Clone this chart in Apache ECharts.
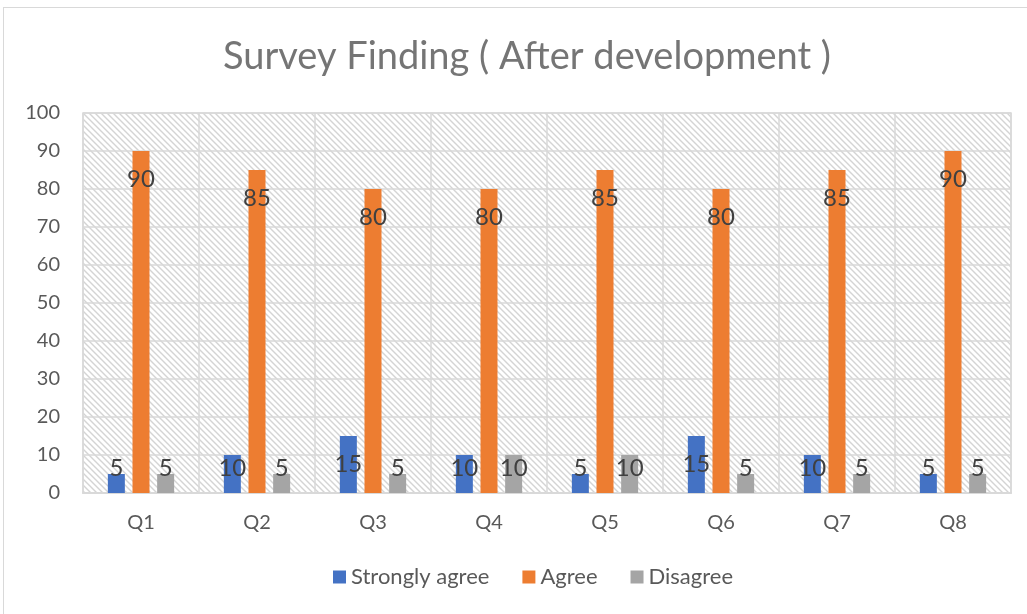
<!DOCTYPE html>
<html>
<head>
<meta charset="utf-8">
<script src="https://cdn.jsdelivr.net/npm/echarts@6/dist/echarts.min.js"></script>
<style>
  html, body { margin: 0; padding: 0; background: #fff; }
  #chart { width: 1027px; height: 614px; }
  #frame { position: absolute; left: 3px; top: 7px; width: 1040px; height: 630px; border: 1px solid #d9d9d9; pointer-events: none; }
</style>
</head>
<body>
<div id="chart"></div>
<div id="frame"></div>
<script>
var categories = ["Q1", "Q2", "Q3", "Q4", "Q5", "Q6", "Q7", "Q8"];
var stronglyAgree = [5, 10, 15, 10, 5, 15, 10, 5];
var agree = [90, 85, 80, 80, 85, 80, 85, 90];
var disagree = [5, 5, 5, 10, 10, 5, 5, 5];
var yTicks = [0, 100, 10];

// hatch pattern for plot background
var pat = document.createElement("canvas");
pat.width = 6;
pat.height = 6;
var ctx = pat.getContext("2d");
ctx.fillStyle = "#ffffff";
ctx.fillRect(0, 0, 6, 6);
ctx.strokeStyle = "#d4d4d4";
ctx.lineWidth = 1.4;
ctx.beginPath();
ctx.moveTo(-1, -1); ctx.lineTo(7, 7);
ctx.moveTo(-1, 5); ctx.lineTo(1, 7);
ctx.moveTo(5, -1); ctx.lineTo(7, 1);
ctx.stroke();

// Excel style "inside end" labels: short bars get label pushed to the base
function withLabels(arr) {
  return arr.map(function (v) {
    var small = v <= 10;
    return {
      value: v,
      label: {
        position: small ? "insideBottom" : "insideTop",
        distance: small ? 13 : 16
      }
    };
  });
}

var labelStyle = {
  show: true,
  color: "#404040",
  fontSize: 24,
  lineHeight: 24,
  fontFamily: "Lato"
};

var chart = echarts.init(document.getElementById("chart"));
var option = {
  animation: false,
  title: {
    text: "Survey Finding ( After development )",
    left: 218,
    top: 33,
    textStyle: {
      color: "#757575",
      fontSize: 38,
      fontWeight: "normal",
      fontFamily: "Lato"
    }
  },
  legend: {
    bottom: 21,
    left: 328,
    itemWidth: 13,
    itemHeight: 13,
    itemGap: 33,
    icon: "rect",
    textStyle: { color: "#595959", fontSize: 22, fontFamily: "Lato" },
    data: ["Strongly agree", "Agree", "Disagree"]
  },
  grid: {
    left: 83,
    right: 16,
    top: 113,
    bottom: 121,
    show: true,
    borderColor: "#d9d9d9",
    borderWidth: 1.5,
    backgroundColor: { image: pat, repeat: "repeat" }
  },
  xAxis: {
    type: "category",
    data: categories,
    axisLine: { lineStyle: { color: "#d9d9d9", width: 2 } },
    axisTick: { show: false },
    splitLine: { show: true, lineStyle: { color: "#d9d9d9", width: 1.5 } },
    axisLabel: { color: "#595959", fontSize: 20, margin: 20, fontFamily: "Lato" }
  },
  yAxis: {
    type: "value",
    min: yTicks[0],
    max: yTicks[1],
    interval: yTicks[2],
    axisLine: { show: false },
    axisTick: { show: false },
    splitLine: { lineStyle: { color: "#d9d9d9", width: 1.5 } },
    axisLabel: { color: "#595959", fontSize: 20, margin: 23, fontFamily: "Lato" }
  },
  series: [
    {
      name: "Strongly agree",
      type: "bar",
      barWidth: 17,
      barGap: "45%",
      itemStyle: { color: "#4472c4" },
      label: labelStyle,
      data: withLabels(stronglyAgree)
    },
    {
      name: "Agree",
      type: "bar",
      barWidth: 17,
      barGap: "45%",
      itemStyle: { color: "#ed7d31" },
      label: labelStyle,
      data: withLabels(agree)
    },
    {
      name: "Disagree",
      type: "bar",
      barWidth: 17,
      barGap: "45%",
      itemStyle: { color: "#a5a5a5" },
      label: labelStyle,
      data: withLabels(disagree)
    }
  ]
};
chart.setOption(option);
</script>
</body>
</html>
